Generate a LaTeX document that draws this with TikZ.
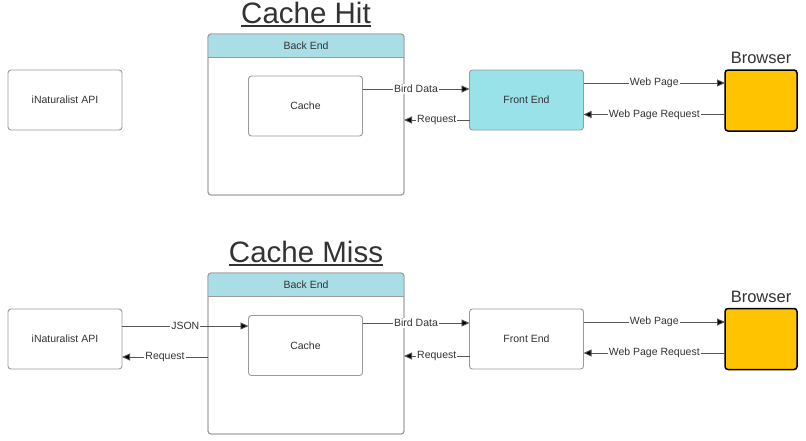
\documentclass[tikz,border=0pt]{standalone}
\usepackage{fontspec}
\setmainfont{Liberation Sans}
\usetikzlibrary{arrows.meta}
\definecolor{txt}{HTML}{333333}
\definecolor{bord}{HTML}{9A9A9A}
\definecolor{hdr}{HTML}{A9DEE6}
\definecolor{fecol}{HTML}{9AE2EA}
\definecolor{brcol}{HTML}{FFC300}
\definecolor{ln}{HTML}{555555}
\tikzset{
  box/.style={draw=bord, line width=0.9pt, rounded corners=3pt, minimum width=114pt, minimum height=60pt, inner sep=0pt, outer sep=0pt, font=\fontsize{10.5}{12}\selectfont, text=txt},
  container/.style={draw=bord, line width=0.9pt, rounded corners=3pt, minimum width=196pt, minimum height=161pt, inner sep=0pt, outer sep=0pt},
  header/.style={fill=hdr, rounded corners=3pt, minimum width=196pt, minimum height=23pt, inner sep=0pt, outer sep=0pt},
  browser/.style={draw=black, fill=brcol, line width=1.5pt, rounded corners=3pt, minimum width=72pt, minimum height=61pt, inner sep=0pt, outer sep=0pt},
  title/.style={font=\fontsize{29.5}{34}\selectfont, text=txt, inner sep=0pt, anchor=base},
  blabel/.style={font=\fontsize{16.5}{18}\selectfont, text=txt, inner sep=0pt, anchor=base},
  arr/.style={draw=ln, line width=0.9pt, -{Triangle[length=8pt,width=7pt,fill=black]}},
  lbl/.style={fill=white, inner sep=1pt, font=\fontsize{10.5}{12}\selectfont, text=txt},
  htext/.style={font=\fontsize{10.5}{12}\selectfont, text=txt}
}
\begin{document}
\begin{tikzpicture}[x=1pt,y=-1pt]
\useasboundingbox (0,0) rectangle (806,440);
\fill[white] (0,0) rectangle (806,440);

% ---------- Cache Hit ----------
\node[title] (t1) at (306,23) {Cache Hit};
\draw[txt, line width=1.6pt] ([yshift=-3pt]t1.base west) -- ([yshift=-3pt]t1.base east);

\node[box] (api1) at (65,100) {iNaturalist API};
\node[container] (be1) at (306,114.5) {};
\node[header, anchor=north] (h1) at (be1.north) {};
\fill[hdr] (h1.west) rectangle (h1.south east);
\node[htext] (h1t) at (h1) {Back End};
\draw[bord, line width=0.9pt, rounded corners=3pt] (be1.south west) rectangle (be1.north east);
\draw[bord, line width=0.9pt] (h1.south west) -- (h1.south east);
\node[box] (c1) at (305.5,106) {Cache};
\node[box, fill=fecol] (fe1) at (526.5,100) {Front End};
\node[browser] (br1) at (761,100.5) {};
\node[blabel] (bl1) at (761,63) {Browser};

\draw[arr] ([yshift=17pt]c1.east) -- node[lbl] {Bird Data} ([yshift=17pt]c1.east -| fe1.west);
\draw[arr] ([yshift=-20pt]fe1.west) -- node[lbl] {Request} ([yshift=-20pt]fe1.west -| be1.east);
\draw[arr] ([yshift=17pt]fe1.east) -- node[lbl] {Web Page} ([yshift=17pt]fe1.east -| br1.west);
\draw[arr] ([yshift=-14pt]br1.west) -- node[lbl] {Web Page Request} ([yshift=-14pt]br1.west -| fe1.east);

% ---------- Cache Miss ----------
\node[title] (t2) at (306,262) {Cache Miss};
\draw[txt, line width=1.6pt] ([yshift=-3pt]t2.base west) -- ([yshift=-3pt]t2.base east);

\node[box] (api2) at (65,339) {iNaturalist API};
\node[container] (be2) at (306,353.5) {};
\node[header, anchor=north] (h2) at (be2.north) {};
\fill[hdr] (h2.west) rectangle (h2.south east);
\node[htext] (h2t) at (h2) {Back End};
\draw[bord, line width=0.9pt, rounded corners=3pt] (be2.south west) rectangle (be2.north east);
\draw[bord, line width=0.9pt] (h2.south west) -- (h2.south east);
\node[box] (c2) at (305.5,345.5) {Cache};
\node[box] (fe2) at (526.5,339) {Front End};
\node[browser] (br2) at (761,339) {};
\node[blabel] (bl2) at (761,302) {Browser};

\draw[arr] ([yshift=13pt]api2.east) -- node[lbl] {JSON} ([yshift=13pt]api2.east -| c2.west);
\draw[arr] ([yshift=-18pt]api2.east -| be2.west) -- node[lbl] {Request} ([yshift=-18pt]api2.east);
\draw[arr] ([yshift=22.5pt]c2.east) -- node[lbl] {Bird Data} ([yshift=22.5pt]c2.east -| fe2.west);
\draw[arr] ([yshift=-17pt]fe2.west) -- node[lbl] {Request} ([yshift=-17pt]fe2.west -| be2.east);
\draw[arr] ([yshift=17pt]fe2.east) -- node[lbl] {Web Page} ([yshift=17pt]fe2.east -| br2.west);
\draw[arr] ([yshift=-14pt]br2.west) -- node[lbl] {Web Page Request} ([yshift=-14pt]br2.west -| fe2.east);
\end{tikzpicture}
\end{document}
